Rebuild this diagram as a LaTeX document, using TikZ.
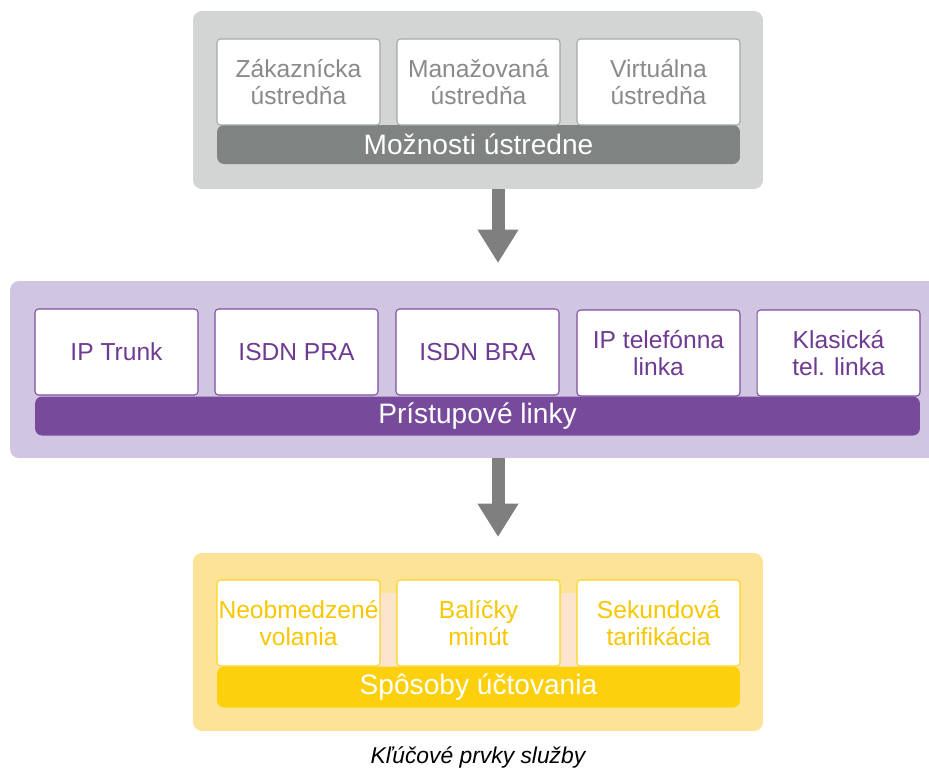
\documentclass[tikz,border=0pt]{standalone}
\usepackage{fontspec}
\setmainfont{Liberation Sans}
\usetikzlibrary{arrows.meta}
\definecolor{grbg}{HTML}{D3D4D4}
\definecolor{grline}{HTML}{A6A6A6}
\definecolor{grtext}{HTML}{8A8A8A}
\definecolor{grbar}{HTML}{7F8381}
\definecolor{pubg}{HTML}{D1C6E1}
\definecolor{puline}{HTML}{7E4DA0}
\definecolor{putext}{HTML}{6E3A92}
\definecolor{pubar}{HTML}{784A9C}
\definecolor{yebg}{HTML}{FCE397}
\definecolor{yeline}{HTML}{FDD41C}
\definecolor{yetext}{HTML}{F8C700}
\definecolor{yebar}{HTML}{FCD00C}
\definecolor{peach}{HTML}{FDE4CC}
\definecolor{arrgray}{HTML}{7F7F7F}
\begin{document}
\begin{tikzpicture}[x=0.02cm,y=-0.02cm,
  panel/.style={rectangle,rounded corners=5pt,inner sep=0pt,minimum height=3.56cm},
  item/.style={rectangle,draw,fill=white,rounded corners=2pt,line width=0.6pt,
    minimum width=3.26cm,minimum height=1.72cm,inner sep=0pt,align=center,
    font=\fontsize{14pt}{15.4pt}\selectfont},
  bar/.style={rectangle,rounded corners=4pt,inner sep=0pt,minimum height=0.78cm,
    text=white,font=\fontsize{16pt}{18pt}\selectfont},
  fatarrow/.style={arrgray,line width=7.4pt,-{Triangle[width=22pt,length=19pt]}}]
\useasboundingbox (0,0) rectangle (929,771);

% panels
\path
(478,100)   node[panel,fill=grbg,minimum width=11.4cm]  (pbx) {}
(478,369.5) node[panel,fill=pubg,minimum width=18.72cm,minimum height=3.54cm] (lines) {}
(478,642)   node[panel,fill=yebg,minimum width=11.4cm]  (bill) {};

% Moznosti ustredne
\path
(478.5,144.5) node[bar,fill=grbar,minimum width=10.46cm] (pbxbar) {Možnosti ústredne}
(298.5,82) node[item,draw=grline,text=grtext] (cpbx) {Zákaznícka\\ústredňa}
(478.5,82) node[item,draw=grline,text=grtext] (mpbx) {Manažovaná\\ústredňa}
(658.5,82) node[item,draw=grline,text=grtext] (vpbx) {Virtuálna\\ústredňa};

% Pristupove linky
\path
(477.5,416) node[bar,fill=pubar,minimum width=17.7cm] (linebar) {Prístupové linky}
(116.5,352) node[item,draw=puline,text=putext] (trunk) {IP Trunk}
(296.5,352) node[item,draw=puline,text=putext] (pra) {ISDN PRA}
(477.5,352) node[item,draw=puline,text=putext] (bra) {ISDN BRA}
(658.5,353) node[item,draw=puline,text=putext] (ipline) {IP telefónna\\linka}
(838.5,353) node[item,draw=puline,text=putext] (pots) {Klasická\\tel. linka};

% Sposoby uctovania
\fill[peach] (217,593) rectangle (740,667);
\path
(478.5,687) node[bar,fill=yebar,minimum width=10.46cm,minimum height=0.82cm] (billbar) {Spôsoby účtovania}
(298.5,623) node[item,draw=yeline,text=yetext] (flat) {Neobmedzené\\volania}
(478.5,623) node[item,draw=yeline,text=yetext] (packs) {Balíčky\\minút}
(658.5,623) node[item,draw=yeline,text=yetext] (secs) {Sekundová\\tarifikácia};

\coordinate (a1) at (498,263);
\coordinate (a2) at (498,537);
\draw[fatarrow] (pbx.south -| a1) -- (a1);
\draw[fatarrow] (lines.south -| a2) -- (a2);

\node[font=\fontsize{13pt}{15pt}\itshape] (cap) at (478,757) {Kľúčové prvky služby};
\end{tikzpicture}
\end{document}
